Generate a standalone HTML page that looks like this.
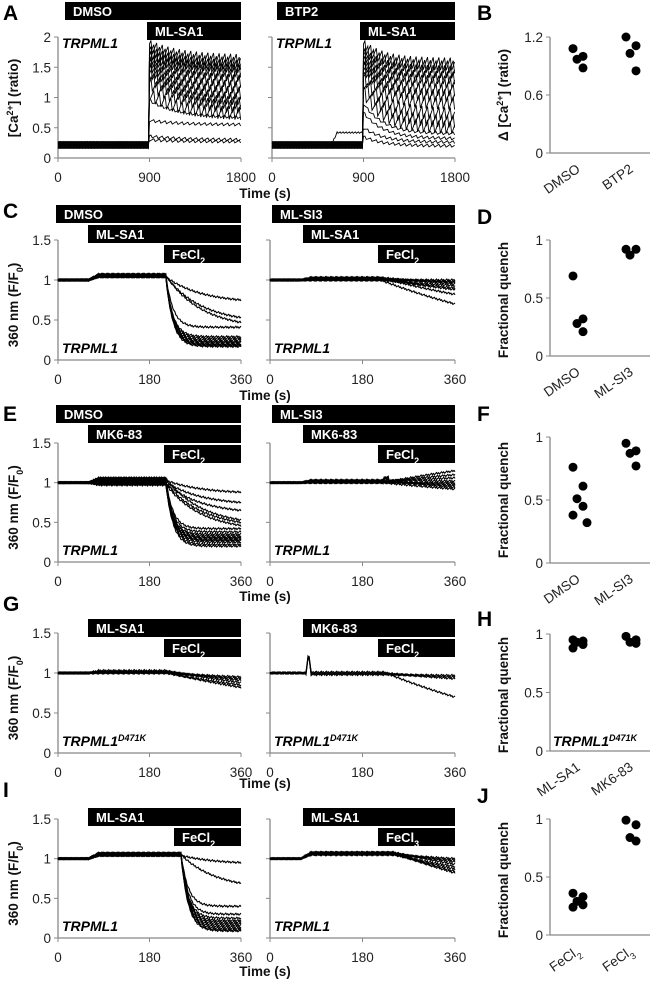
<!DOCTYPE html>
<html><head><meta charset="utf-8"><style>
body{margin:0;background:#fff}
svg{display:block;font-family:"Liberation Sans",sans-serif}
.tk{font-size:13.5px;fill:#222}
.tt{font-size:13.5px;font-weight:bold;fill:#111}
.lt{font-size:21px;font-weight:bold;fill:#000}
.bt{font-size:13px;font-weight:bold;fill:#fff}
.gn{font-size:14px;font-weight:bold;font-style:italic;fill:#000}
</style></head><body>
<svg id="fig" width="663" height="984" viewBox="0 0 663 984" xmlns="http://www.w3.org/2000/svg"></svg>
<script>
// ===== Data =====
const aLeftPeak=[1.85,1.8,1.75,1.72,1.68,1.62,1.55,1.5,1.45,1.35,1.25,1.05,0.95,0.62,0.36,0.3];
const aLeftEnd=[1.6,1.55,1.5,1.42,1.35,1.25,1.15,1.05,0.95,0.88,0.82,0.72,0.66,0.55,0.3,0.27];
const aRightPeak=[1.85,1.8,1.72,1.65,1.6,1.55,1.5,1.45,1.35,1.25,1.1,0.9,0.75,0.5,0.35];
const aRightEnd=[1.55,1.5,1.42,1.32,1.25,1.12,1.02,0.9,0.72,0.6,0.5,0.4,0.32,0.26,0.2];
const cLeftEnd=[0.75,0.53,0.47,0.41,0.29,0.27,0.25,0.23,0.22,0.2,0.19,0.18,0.17];
const cRightEnd=[1.0,0.98,0.97,0.95,0.93,0.9,0.88,0.82,0.7];
const eLeftEnd=[0.88,0.75,0.65,0.53,0.5,0.46,0.42,0.38,0.35,0.33,0.31,0.3,0.28,0.27,0.25,0.22,0.2];
const eRightEnd=[1.15,1.1,1.06,1.02,1.0,0.98,0.96,0.94,0.92];
const gLeftEnd=[0.95,0.93,0.91,0.88,0.85,0.82];
const gRightEnd=[0.97,0.95,0.93,0.7];
const iLeftEnd=[0.95,0.69,0.4,0.3,0.25,0.22,0.2,0.18,0.16,0.14,0.12,0.1,0.09];
const iRightEnd=[1.0,0.98,0.96,0.93,0.9,0.87,0.84,0.82];
const bCats=["DMSO","BTP2"];const bVals=[[1.08,1.0,0.97,0.88],[1.2,1.11,1.03,0.85]];
const dCats=["DMSO","ML-SI3"];const dVals=[[0.69,0.32,0.28,0.21],[0.92,0.92,0.87]];
const fCats=["DMSO","ML-SI3"];const fVals=[[0.76,0.61,0.51,0.45,0.38,0.32],[0.95,0.89,0.87,0.77]];
const hCats=["ML-SA1","MK6-83"];const hVals=[[0.95,0.94,0.93,0.91,0.88],[0.98,0.95,0.93,0.92]];
const jCats=["FeCl2","FeCl3"];const jVals=[[0.36,0.33,0.29,0.26,0.24],[0.99,0.95,0.84,0.81]];
const timeTicksA=[0,900,1800];const timeTicksQ=[0,180,360];
const yTicksA=[0,0.5,1,1.5,2];const yTicksQ=[0,0.5,1,1.5];const yTicksB=[0,0.6,1.2];const yTicksF=[0,0.5,1];

const NS="http://www.w3.org/2000/svg";const svg=document.getElementById('fig');
function el(tag,attrs,parent,text){const e=document.createElementNS(NS,tag);for(const k in attrs)e.setAttribute(k,attrs[k]);if(text!==undefined)e.textContent=text;(parent||svg).appendChild(e);return e;}
function group(name){const g=el('g',{});return g;}

function axes(g,p,xt,yt,labelY){
  const sx=t=>p.x0+t/p.xmax*(p.x1-p.x0), sy=v=>p.y0-v/p.ymax*(p.y0-p.yt);
  const ya=el('line',{x1:p.x0,y1:p.y0,x2:p.x0,y2:sy(yt[yt.length-1]),stroke:'#888','stroke-width':1.3},g);
  
  const xa=el('line',{x1:p.x0,y1:p.y0,x2:p.x1,y2:p.y0,stroke:'#888','stroke-width':1.3},g);
  
  yt.forEach(v=>{el('line',{x1:p.x0-4,y1:sy(v),x2:p.x0,y2:sy(v),stroke:'#888'},g);
    if(labelY){const t=el('text',{x:p.x0-7,y:sy(v)+5,'text-anchor':'end',class:'tk'},g,String(v));}});
  if(xt){xt.forEach(v=>{el('line',{x1:sx(v),y1:p.y0,x2:sx(v),y2:p.y0+4,stroke:'#888'},g);
    const t=el('text',{x:sx(v),y:p.y0+24,'text-anchor':'middle',class:'tk'},g,String(v));});}
  return {sx,sy};
}
function drawLine(g,pts,sc,w){let d='';pts.forEach((q,k)=>{d+=(k?'L':'M')+sc.sx(q[0]).toFixed(1)+' '+sc.sy(q[1]).toFixed(1);});
  const pth=el('path',{d,fill:'none',stroke:'#000','stroke-width':w||1.1},g);}
function bar(g,x,y,x2,label,sub){const r=el('rect',{x,y,width:x2-x,height:18,fill:'#000'},g);
  const t=el('text',{x:x+8,y:y+14,class:'bt'},g,label);if(sub){el('tspan',{'baseline-shift':'sub','font-size':'9px'},t,sub);}}
function gene(g,x,y,sup){const t=el('text',{x,y,class:'gn'},g,'TRPML1');if(sup){el('tspan',{'baseline-shift':'super','font-size':'9px'},t,sup);}}
function letter(x,y,s){const t=el('text',{x,y,class:'lt'},svg,s);}
function ytitle(x,y,parts){const t=el('text',{x,y,class:'tt','text-anchor':'middle',transform:`rotate(-90 ${x} ${y})`},svg);
  parts.forEach(p=>{if(typeof p==='string')el('tspan',{},t,p);else el('tspan',{'baseline-shift':p[1],'font-size':'9px'},t,p[0]);});
  }
function timeTitle(y){const t=el('text',{x:265,y,'text-anchor':'middle',class:'tt'},svg,'Time (s)');}

function caTraces(g,sc,peaks,ends,opt){
  peaks.forEach((pk,i)=>{const pts=[];const base=0.17+(i%4)*0.03;const amp=pk>1?0.07:0.015;
    for(let t=0,k=0;t<=1800;t+=(t<900?10:14),k++){let v;
      if(t<900){v=base+((k+i)%3-1)*0.012;if(opt&&opt.bump===i&&t>580&&t<900)v+=0.22*Math.min(1,(t-580)/60);}
      else{const f=Math.exp(-(t-900)/(opt?200:300));v=ends[i]+(pk-ends[i])*f+((k*5+i*2)%4-1.5)*amp;}
      pts.push([t,v]);}
    drawLine(g,pts,sc,0.9);});
}
function qTraces(g,sc,ends,o){
  ends.forEach((e,i)=>{const pts=[];const plat=o.plat+(i%4)*0.01-(o.pre?(i%3)*0.03:0);
    const fast=o.fast&&e<0.45;const tau=fast?14:o.slow?400:70;
    for(let t=0,k=0;t<=360;t+=2,k++){let v;const n=((k*7+i*3)%5-2)*0.006;
      if(t<o.on)v=1+n;
      else if(t<o.fe)v=1+(plat-1)*Math.min(1,(t-o.on)/20)+n;
      else{const fr=(1-Math.exp(-(t-o.fe)/tau))/(1-Math.exp(-(360-o.fe)/tau));v=plat+(e-plat)*fr+n;}
      if(o.spike&&t>=70&&t<=80)v+=0.25*(1-Math.abs(t-75)/5);
      if(o.bump&&t>=o.fe&&t<o.fe+10&&e>1)v+=0.04;
      pts.push([t,v]);}
    drawLine(g,pts,sc);});
}
function scatter(name,p,cats,vals){const g=group(name);const sc=axes(g,p,null,p.ticks,true);
  const cx=[577,630];
  cats.forEach((c,ci)=>{vals[ci].forEach((v,j)=>{const off=((j%2)?6:-4)+(j%3===2?4:0);
      const d=el('circle',{cx:cx[ci]+off,cy:sc.sy(v),r:4.5,fill:'#000'},g);});
    const tx=cx[ci]+4,ty=p.y0+18;const t=el('text',{x:tx,y:ty,'text-anchor':'end',class:'tk',transform:`rotate(-35 ${tx} ${ty})`},g);
    if(c.startsWith('FeCl')){el('tspan',{},t,'FeCl');el('tspan',{'baseline-shift':'sub','font-size':'9px'},t,c.slice(4));}else t.textContent=c;
    });
  return g;}

// ===== Panel A =====
let g=group('panel-a-dmso');let sc=axes(g,{x0:58,x1:241,y0:158,yt:37,xmax:1800,ymax:2},timeTicksA,yTicksA,true);
caTraces(g,sc,aLeftPeak,aLeftEnd);bar(g,65,2,241,'DMSO');bar(g,147,22,241,'ML-SA1');gene(g,62,48);
g=group('panel-a-btp2');sc=axes(g,{x0:272,x1:455,y0:158,yt:37,xmax:1800,ymax:2},timeTicksA,yTicksA,false);
caTraces(g,sc,aRightPeak,aRightEnd,{bump:13});bar(g,277,2,455,'BTP2');bar(g,360,22,455,'ML-SA1');gene(g,276,48);
letter(3,20,'A');ytitle(18,98,['[Ca',['2+','super'],'] (ratio)']);timeTitle(198);
scatter('panel-b',{x0:550,x1:650,y0:153,yt:37,xmax:1,ymax:1.2,ticks:yTicksB},bCats,bVals);
letter(477,20,'B');ytitle(508,95,['Δ [Ca',['2+','super'],'] (ratio)']);

function row(y0,yt,L,R,lettL,titleY){
  let g=group('panel-'+lettL.toLowerCase()+'-left');let sc=axes(g,{x0:58,x1:241,y0,yt,xmax:360,ymax:1.5},timeTicksQ,yTicksQ,true);
  qTraces(g,sc,L.ends,L.o);L.bars.forEach(b=>bar(g,b[0],b[1],241,b[2],b[3]));gene(g,62,y0-7,L.sup);
  g=group('panel-'+lettL.toLowerCase()+'-right');sc=axes(g,{x0:270,x1:455,y0,yt,xmax:360,ymax:1.5},timeTicksQ,yTicksQ,false);
  qTraces(g,sc,R.ends,R.o);R.bars.forEach(b=>bar(g,b[0],b[1],455,b[2],b[3]));gene(g,274,y0-7,R.sup);
  letter(3,yt-22,lettL);ytitle(18,(y0+yt)/2+5,['360 nm (F/F',['0','sub'],')']);timeTitle(titleY);
}
row(360,240,{ends:cLeftEnd,o:{on:60,fe:212,plat:1.04,fast:true},bars:[[56,205,'DMSO'],[88,225,'ML-SA1'],[164,245,'FeCl','2']]},
  {ends:cRightEnd,o:{on:60,fe:215,plat:1.0,slow:true},bars:[[272,205,'ML-SI3'],[303,225,'ML-SA1'],[378,245,'FeCl','2']]},'C',400);
scatter('panel-d',{x0:550,x1:650,y0:356,yt:240,xmax:1,ymax:1,ticks:yTicksF},dCats,dVals);letter(477,224,'D');ytitle(508,300,['Fractional quench']);
row(562,443,{ends:eLeftEnd,o:{on:60,fe:212,plat:1.03,fast:true,pre:true},bars:[[56,405,'DMSO'],[88,425,'MK6-83'],[164,445,'FeCl','2']]},
  {ends:eRightEnd,o:{on:60,fe:222,plat:1.0,slow:true,bump:true},bars:[[272,405,'ML-SI3'],[303,425,'MK6-83'],[378,445,'FeCl','2']]},'E',601);
scatter('panel-f',{x0:550,x1:650,y0:563,yt:437,xmax:1,ymax:1,ticks:yTicksF},fCats,fVals);letter(477,421,'F');ytitle(508,500,['Fractional quench']);
row(753,633,{ends:gLeftEnd,o:{on:60,fe:212,plat:1.0,slow:true},bars:[[88,619,'ML-SA1'],[164,639,'FeCl','2']],sup:'D471K'},
  {ends:gRightEnd,o:{on:60,fe:222,plat:0.98,slow:true,spike:true},bars:[[303,619,'MK6-83'],[378,639,'FeCl','2']],sup:'D471K'},'G',788);
const gh=scatter('panel-h',{x0:550,x1:650,y0:751,yt:634,xmax:1,ymax:1,ticks:yTicksF},hCats,hVals);gene(gh,553,746,'D471K');letter(477,626,'H');ytitle(508,695,['Fractional quench']);
row(938,819,{ends:iLeftEnd,o:{on:60,fe:242,plat:1.04,fast:true},bars:[[88,808,'ML-SA1'],[174,828,'FeCl','2']]},
  {ends:iRightEnd,o:{on:60,fe:240,plat:1.05,slow:true},bars:[[303,808,'ML-SA1'],[378,828,'FeCl','3']]},'I',976);
scatter('panel-j',{x0:550,x1:650,y0:935,yt:819,xmax:1,ymax:1,ticks:yTicksF},jCats,jVals);letter(477,803,'J');ytitle(508,880,['Fractional quench']);
</script>
</body></html>
